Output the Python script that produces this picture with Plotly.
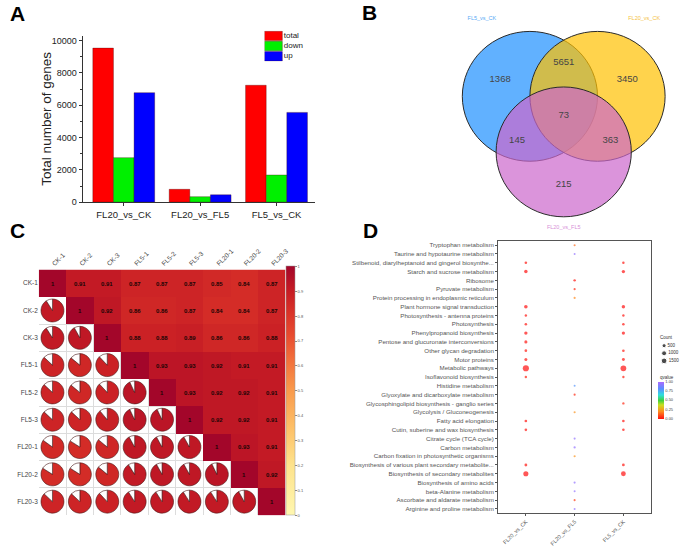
import numpy as np
import plotly.graph_objects as go
from plotly.colors import sample_colorscale

W, H = 685, 554
def px(x):
    return x / W
def py(y):
    return 1 - y / H

FONT = "Liberation Sans, Arial, sans-serif"

# ---------------- Panel A data ----------------
comparisons = ["FL20_vs_CK", "FL20_vs_FL5", "FL5_vs_CK"]
total_genes = [9537, 796, 7237]
down_genes = [2757, 340, 1680]
up_genes = [6780, 456, 5557]
a_yticks = [0, 2000, 4000, 6000, 8000, 10000]
a_series = ["total", "down", "up"]
a_colors = ["#ff0000", "#00f000", "#0000ff"]

# ---------------- Panel B data ----------------
venn_sets = ["FL5_vs_CK", "FL20_vs_CK", "FL20_vs_FL5"]
venn_set_colors = ["#5aabf5", "#f5c242", "#d890d8"]
venn_fill = ["rgba(30,144,255,0.7)", "rgba(255,192,0,0.7)", "rgba(204,102,204,0.7)"]
venn_centers_x = [-0.5, 0.5, 0.0]
venn_centers_y = [0.0, 0.0, -0.856]
venn_radius = 1.0
venn_set_label_x = [-1.21, 1.19, 0.0]
venn_set_label_y = [1.19, 1.19, -2.02]
venn_counts = [1368, 5651, 3450, 73, 145, 363, 215]
venn_count_x = [-0.94, 0.0, 0.94, 0.0, -0.69, 0.69, 0.0]
venn_count_y = [0.26, 0.52, 0.26, -0.29, -0.687, -0.687, -1.36]

# ---------------- Panel C data ----------------
samples = ["CK-1", "CK-2", "CK-3", "FL5-1", "FL5-2", "FL5-3", "FL20-1", "FL20-2", "FL20-3"]
corr_upper = [
    [1, 0.91, 0.91, 0.87, 0.87, 0.87, 0.85, 0.84, 0.87],
    [1, 0.92, 0.86, 0.86, 0.87, 0.84, 0.84, 0.87],
    [1, 0.88, 0.88, 0.89, 0.86, 0.86, 0.88],
    [1, 0.93, 0.93, 0.92, 0.91, 0.91],
    [1, 0.93, 0.92, 0.92, 0.91],
    [1, 0.92, 0.92, 0.91],
    [1, 0.93, 0.91],
    [1, 0.92],
    [1],
]
corr_ticks = [0, 0.1, 0.2, 0.3, 0.4, 0.5, 0.6, 0.7, 0.8, 0.9, 1]
corr_scale = [
    [0.0, "#fff7b0"], [0.2, "#fee38c"], [0.35, "#fdc068"], [0.5, "#f99a4c"],
    [0.62, "#f2713c"], [0.72, "#e84c30"], [0.82, "#d83128"], [0.9, "#c61c24"],
    [1.0, "#a3062a"],
]

# ---------------- Panel D data ----------------
pathways = [
    "Tryptophan metabolism",
    "Taurine and hypotaurine metabolism",
    "Stilbenoid, diarylheptanoid and gingerol biosynthe...",
    "Starch and sucrose metabolism",
    "Ribosome",
    "Pyruvate metabolism",
    "Protein processing in endoplasmic reticulum",
    "Plant hormone signal transduction",
    "Photosynthesis - antenna proteins",
    "Photosynthesis",
    "Phenylpropanoid biosynthesis",
    "Pentose and glucuronate interconversions",
    "Other glycan degradation",
    "Motor proteins",
    "Metabolic pathways",
    "Isoflavonoid biosynthesis",
    "Histidine metabolism",
    "Glyoxylate and dicarboxylate metabolism",
    "Glycosphingolipid biosynthesis - ganglio series",
    "Glycolysis / Gluconeogenesis",
    "Fatty acid elongation",
    "Cutin, suberine and wax biosynthesis",
    "Citrate cycle (TCA cycle)",
    "Carbon metabolism",
    "Carbon fixation in photosynthetic organisms",
    "Biosynthesis of various plant secondary metabolite...",
    "Biosynthesis of secondary metabolites",
    "Biosynthesis of amino acids",
    "beta-Alanine metabolism",
    "Ascorbate and aldarate metabolism",
    "Arginine and proline metabolism",
]
N = None
count_FL20_vs_CK = [N, N, 60, 280, N, N, N, 320, 40, 60, 250, 170, 80, 150, 1900, 40,
                    N, N, N, N, 80, 70, N, N, N, 110, 1100, N, N, N, N]
q_FL20_vs_CK = [N, N, 0.01, 0.0, N, N, N, 0.0, 0.01, 0.01, 0.0, 0.01, 0.02, 0.01, 0.0, 0.03,
                N, N, N, N, 0.01, 0.01, N, N, N, 0.01, 0.0, N, N, N, N]
count_FL20_vs_FL5 = [8, 4, N, N, 40, 15, 15, N, N, N, N, N, N, N, N, N,
                     4, 15, N, 15, N, N, 10, 20, 10, N, N, 15, 6, 8, 6]
q_FL20_vs_FL5 = [0.15, 0.95, N, N, 0.01, 0.04, 0.2, N, N, N, N, N, N, N, N, N,
                 0.8, 0.04, N, 0.22, N, N, 0.95, 0.95, 0.22, N, N, 0.95, 0.95, 0.08, 0.95]
count_FL5_vs_CK = [N, N, 50, 230, N, N, N, 270, 35, 50, 210, N, 70, 130, 1550, 35,
                   N, N, 30, N, 70, 60, N, N, N, 95, 900, N, N, N, N]
q_FL5_vs_CK = [N, N, 0.01, 0.0, N, N, N, 0.0, 0.01, 0.01, 0.0, N, 0.02, 0.01, 0.0, 0.03,
               N, N, 0.04, N, 0.01, 0.01, N, N, N, 0.01, 0.0, N, N, N, N]
count_breaks = [500, 1000, 1500]
q_ticks = [0, 0.25, 0.5, 0.75, 1.0]
q_scale = [
    [0.0, "#ff0f0f"], [0.2, "#ff8a1f"], [0.38, "#c8e020"], [0.5, "#3fd13f"],
    [0.65, "#2fdede"], [0.82, "#5c8cff"], [1.0, "#a96cff"],
]

def dot_size(c):
    return 1.8 + 0.1 * np.sqrt(c)

fig = go.Figure()

# ---------------- Panel A ----------------
for name, vals, col in zip(a_series, [total_genes, down_genes, up_genes], a_colors):
    fig.add_trace(go.Bar(
        x=comparisons, y=vals, name=name, showlegend=False,
        marker=dict(color=col, line=dict(color="rgba(60,0,0,0.55)", width=0.6)),
        xaxis="x", yaxis="y",
    ))
# legend of panel A drawn on a small helper axis
fig.add_trace(go.Bar(
    x=[1, 1, 1], y=a_series, orientation="h", width=0.92, showlegend=False,
    marker=dict(color=a_colors, line=dict(color="rgba(60,0,0,0.55)", width=0.6)),
    xaxis="x5", yaxis="y5", hoverinfo="skip",
))
fig.add_trace(go.Scatter(
    x=[1.08] * 3, y=a_series, text=a_series, mode="text", textposition="middle right",
    textfont=dict(family=FONT, size=8, color="#222"), cliponaxis=False,
    xaxis="x5", yaxis="y5", showlegend=False, hoverinfo="skip",
))

# ---------------- Panel B ----------------
shapes = []
for cx, cy, col in zip(venn_centers_x, venn_centers_y, venn_fill):
    shapes.append(dict(type="circle", xref="x2", yref="y2",
                       x0=cx - venn_radius, x1=cx + venn_radius,
                       y0=cy - venn_radius, y1=cy + venn_radius,
                       fillcolor=col, line=dict(color="#2a2a2a", width=1), layer="below"))
fig.add_trace(go.Scatter(
    x=venn_count_x, y=venn_count_y, text=[str(v) for v in venn_counts], mode="text",
    textfont=dict(family=FONT, size=9.5, color="#454545"), xaxis="x2", yaxis="y2",
    showlegend=False, hoverinfo="text",
))
fig.add_trace(go.Scatter(
    x=venn_set_label_x, y=venn_set_label_y, text=venn_sets, mode="text",
    textfont=dict(family=FONT, size=5.5, color=venn_set_colors), xaxis="x2", yaxis="y2",
    showlegend=False, hoverinfo="text", cliponaxis=False,
))

# ---------------- Panel C ----------------
n = len(samples)
corr = np.full((n, n), np.nan)
for i, row in enumerate(corr_upper):
    for k, v in enumerate(row):
        j = i + k
        corr[i, j] = v
        corr[j, i] = v
z_up = np.where(np.triu(np.ones((n, n))) > 0, corr, np.nan)
text_up = [[("1" if corr[i, j] == 1 else f"{corr[i, j]:.2f}") if j >= i else "" for j in range(n)]
           for i in range(n)]
fig.add_trace(go.Heatmap(
    z=z_up, x=list(range(n)), y=list(range(n)), text=text_up, texttemplate="<b>%{text}</b>",
    textfont=dict(family=FONT, size=6, color="#1a0505"),
    colorscale=corr_scale, zmin=0, zmax=1, xaxis="x3", yaxis="y3", hoverinfo="skip",
    colorbar=dict(x=px(288), xanchor="left", y=py(520), yanchor="bottom",
                  len=249, lenmode="pixels", thickness=9, thicknessmode="pixels",
                  xpad=0, ypad=0,
                  tickvals=corr_ticks, ticktext=[("%g" % t) for t in corr_ticks],
                  tickfont=dict(family=FONT, size=4, color="#555"),
                  ticks="outside", ticklen=2, tickcolor="#888",
                  outlinewidth=0.5, outlinecolor="#999"),
))
# pies in lower triangle
cx0, cx1 = 39, 287
cy0, cy1 = 272, 520
cw = (cx1 - cx0) / n
ch = (cy1 - cy0) / n
pr = 11.6
for i in range(n):
    for j in range(i):
        r = corr[i, j]
        col = sample_colorscale(corr_scale, [r])[0]
        xc = cx0 + (j + 0.5) * cw
        yc = cy0 + (i + 0.5) * ch
        fig.add_trace(go.Pie(
            values=[r, 1 - r], sort=False, direction="clockwise", rotation=0,
            marker=dict(colors=[col, "white"], line=dict(color="#4a1a1a", width=0.6)),
            domain=dict(x=[px(xc - pr), px(xc + pr)], y=[py(yc + pr), py(yc - pr)]),
            textinfo="none", hoverinfo="skip", showlegend=False,
        ))

# ---------------- Panel D ----------------
dx, dy, dc, ds = [], [], [], []
for comp, counts, qs in [(comparisons[0], count_FL20_vs_CK, q_FL20_vs_CK),
                         (comparisons[1], count_FL20_vs_FL5, q_FL20_vs_FL5),
                         (comparisons[2], count_FL5_vs_CK, q_FL5_vs_CK)]:
    for pw, c, q in zip(pathways, counts, qs):
        if c is not None:
            dx.append(comp); dy.append(pw); dc.append(q); ds.append(dot_size(c))
fig.add_trace(go.Scatter(
    x=dx, y=dy, mode="markers", xaxis="x4", yaxis="y4", showlegend=False,
    marker=dict(size=ds, color=dc, colorscale=q_scale, cmin=0, cmax=1, line=dict(width=0),
                colorbar=dict(x=px(662), xanchor="left", y=py(385), yanchor="top",
                              len=37, lenmode="pixels", thickness=6, thicknessmode="pixels",
                              xpad=0, ypad=0,
                              tickvals=q_ticks, ticktext=["%.2f" % t for t in q_ticks],
                              tickfont=dict(family=FONT, size=4, color="#444"),
                              ticks="", outlinewidth=0)),
))
# Count legend on a helper axis
fig.add_trace(go.Scatter(
    x=[0, 0, 0], y=[str(b) for b in count_breaks], mode="markers+text",
    text=[str(b) for b in count_breaks], textposition="middle right",
    textfont=dict(family=FONT, size=4.5, color="#333"), cliponaxis=False,
    marker=dict(size=[dot_size(b) for b in count_breaks], color="black"),
    xaxis="x6", yaxis="y6", showlegend=False, hoverinfo="skip",
))

# ---------------- Layout ----------------
axis_common = dict(showgrid=False, zeroline=False)
hidden = dict(visible=False, fixedrange=True)
letter_font = dict(family=FONT, size=21, color="black")
fig.update_layout(
    width=W, height=H, margin=dict(l=0, r=0, t=0, b=0),
    paper_bgcolor="white", plot_bgcolor="white",
    font=dict(family=FONT, color="#222"),
    barmode="group", bargap=0.19, bargroupgap=0,
    shapes=shapes,
    xaxis=dict(domain=[px(83), px(317)], range=[-0.54, 2.506], anchor="y",
               showline=True, linecolor="#333", linewidth=1, ticks="outside", ticklen=3,
               tickcolor="#333", tickfont=dict(family=FONT, size=9.5, color="#222"), **axis_common),
    yaxis=dict(domain=[py(204), py(36)], range=[0, 10307], anchor="x",
               showline=True, linecolor="#333", linewidth=1, ticks="outside", ticklen=3,
               tickcolor="#333", tickvals=a_yticks, tickformat="d",
               minor=dict(dtick=1000, ticks="outside", ticklen=2, tickcolor="#333"),
               tickfont=dict(family=FONT, size=9, color="#222"), **axis_common),
    xaxis5=dict(domain=[px(266), px(300)], range=[0, 34 / 18], anchor="y5", **hidden),
    yaxis5=dict(domain=[py(62), py(31)], range=[2.5, -0.5], anchor="x5", type="category",
                categoryarray=a_series, categoryorder="array", **hidden),
    xaxis2=dict(domain=[px(440), px(685)], range=[-1.868, 1.735], anchor="y2", **hidden),
    yaxis2=dict(domain=[py(240), py(0)], range=[-2.18, 1.484], anchor="x2", **hidden),
    xaxis3=dict(domain=[px(cx0), px(cx1)], range=[-0.5, n - 0.5], anchor="y3", side="top",
                tickvals=list(range(n)), ticktext=samples, tickangle=-45,
                tickfont=dict(family=FONT, size=6.5, color="#444"), ticks="",
                showline=False, zeroline=False, showgrid=False,
                minor=dict(tickvals=[k - 0.5 for k in range(n + 1)], showgrid=True,
                           gridcolor="#dcdcdc", gridwidth=1, ticks="")),
    yaxis3=dict(domain=[py(cy1), py(cy0)], range=[n - 0.5, -0.5], anchor="x3",
                tickvals=list(range(n)), ticktext=samples,
                tickfont=dict(family=FONT, size=6.5, color="#444"), ticks="",
                showline=False, zeroline=False, showgrid=False,
                minor=dict(tickvals=[k - 0.5 for k in range(n + 1)], showgrid=True,
                           gridcolor="#dcdcdc", gridwidth=1, ticks="")),
    xaxis4=dict(domain=[px(501), px(655)], range=[-0.57, 2.57], anchor="y4", type="category",
                categoryarray=comparisons, categoryorder="array", tickangle=-45,
                tickfont=dict(family=FONT, size=5.5, color="#555"),
                showline=True, mirror=True, linecolor="#555", linewidth=1,
                ticks="outside", ticklen=2, tickcolor="#555", **axis_common),
    yaxis4=dict(domain=[py(518), py(243)], range=[len(pathways) - 0.5, -0.5], anchor="x4",
                type="category", categoryarray=pathways, categoryorder="array",
                tickfont=dict(family=FONT, size=6.2, color="#555"),
                showline=True, mirror=True, linecolor="#555", linewidth=1,
                ticks="outside", ticklen=2, tickcolor="#555", **axis_common),
    xaxis6=dict(domain=[px(664), px(672)], range=[-0.5, 0.5], anchor="y6", **hidden),
    yaxis6=dict(domain=[py(368), py(345)], range=[2.5, -0.5], anchor="x6", type="category",
                categoryarray=[str(b) for b in count_breaks], categoryorder="array", **hidden),
    annotations=[
        dict(text="Total number of genes", x=px(47), y=py(120), xref="paper", yref="paper",
             showarrow=False, textangle=-90, xanchor="center", yanchor="middle",
             font=dict(family=FONT, size=13.5, color="#222")),
        dict(text="<b>A</b>", x=px(18), y=py(14), xref="paper", yref="paper", showarrow=False,
             xanchor="center", yanchor="middle", font=letter_font),
        dict(text="<b>B</b>", x=px(372), y=py(13), xref="paper", yref="paper", showarrow=False,
             xanchor="center", yanchor="middle", font=letter_font),
        dict(text="<b>C</b>", x=px(18), y=py(233), xref="paper", yref="paper", showarrow=False,
             xanchor="center", yanchor="middle", font=letter_font),
        dict(text="<b>D</b>", x=px(373), y=py(233), xref="paper", yref="paper", showarrow=False,
             xanchor="center", yanchor="middle", font=letter_font),
        dict(text="Count", x=px(662), y=py(341), xref="paper", yref="paper", showarrow=False,
             xanchor="left", yanchor="middle", font=dict(family=FONT, size=4.5, color="#333")),
        dict(text="qvalue", x=px(662), y=py(381), xref="paper", yref="paper", showarrow=False,
             xanchor="left", yanchor="middle", font=dict(family=FONT, size=4.5, color="#333")),
    ],
)

fig.write_html(
    "out.html",
    config={"displayModeBar": False},
    post_script="document.body.style.margin='0';document.body.style.padding='0';"
                "document.documentElement.style.overflow='hidden';",
)
